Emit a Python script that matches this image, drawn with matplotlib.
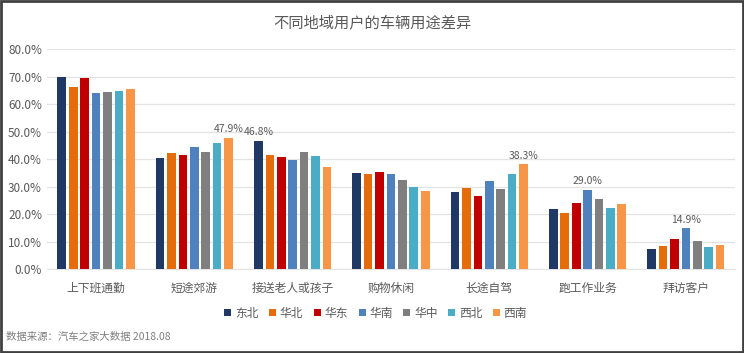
import matplotlib
matplotlib.use("Agg")
import matplotlib.pyplot as plt
import numpy as np
from matplotlib.patches import Rectangle
from matplotlib.ticker import FuncFormatter

plt.rcParams['font.family'] = ['Noto Sans CJK SC', 'DejaVu Sans']

categories = ["上下班通勤", "短途郊游", "接送老人或孩子", "购物休闲", "长途自驾", "跑工作业务", "拜访客户"]
regions = ["东北", "华北", "华东", "华南", "华中", "西北", "西南"]
values = {
    "东北": [70.0, 40.4, 46.8, 34.9, 28.1, 21.8, 7.5],
    "华北": [66.4, 42.5, 41.7, 34.8, 29.7, 20.4, 8.5],
    "华东": [69.6, 41.5, 40.9, 35.4, 26.7, 24.1, 10.9],
    "华南": [64.2, 44.4, 39.7, 34.7, 32.2, 29.0, 14.9],
    "华中": [64.6, 42.7, 42.7, 32.5, 29.2, 25.7, 10.4],
    "西北": [64.9, 45.9, 41.3, 30.0, 34.5, 22.3, 8.2],
    "西南": [65.6, 47.9, 37.2, 28.6, 38.3, 23.9, 8.8],
}
labelled = [("西南", 1), ("东北", 2), ("西南", 4), ("华南", 5), ("华南", 6)]
colors = ["#203864", "#E46C0A", "#C00000", "#4F81BD", "#7F7F7F", "#4BACC6", "#F79646"]

fig = plt.figure(figsize=(7.44, 3.53), dpi=100)
ax = fig.add_axes([0.063, 0.237, 0.925, 0.623])

x = np.arange(len(categories))
step = 0.116
width = 0.088
text_col = "#595959"
for j, r in enumerate(regions):
    ax.bar(x + (j - 3) * step, values[r], width=width, color=colors[j], label=r, zorder=3)

for r, i in labelled:
    j = regions.index(r)
    v = values[r][i]
    ax.text(x[i] + (j - 3) * step, v + 1.2, f"{v:.1f}%", ha="center", va="bottom",
            fontsize=7.5, color=text_col)

ax.set_xlim(-0.5, len(categories) - 0.5)
ax.set_ylim(0, 80)
ax.set_yticks(np.arange(0, 81, 10))
ax.yaxis.set_major_formatter(FuncFormatter(lambda v, p: f"{v:.1f}%"))
ax.grid(axis="y", color="#E3E3E3", linewidth=0.9, zorder=0)
ax.set_axisbelow(True)
for s in ax.spines.values():
    s.set_visible(False)
ax.spines['bottom'].set_visible(True)
ax.spines['bottom'].set_color("#E3E3E3")
ax.tick_params(axis="both", length=0, colors=text_col, labelsize=8.5)
ax.tick_params(axis="x", pad=9)
ax.set_xticks(x)
ax.set_xticklabels(categories, fontsize=8.5, color=text_col)

fig.text(0.5, 0.935, "不同地域用户的车辆用途差异", ha="center", va="center",
         fontsize=11, color=text_col)

leg = fig.legend(loc="center", bbox_to_anchor=(0.505, 0.113), ncol=7, frameon=False,
                 fontsize=8.5, handlelength=0.6, handleheight=0.6, handletextpad=0.3,
                 columnspacing=0.9, labelcolor=text_col)

fig.text(0.008, 0.045, "数据来源：汽车之家大数据 2018.08", ha="left", va="center",
         fontsize=7.5, color="#7F7F7F")

fig.patches.append(Rectangle((0.001, 0.002), 0.997, 0.995, transform=fig.transFigure,
                             fill=False, edgecolor="#404040", linewidth=2))

fig.savefig("out.png", dpi=100)
